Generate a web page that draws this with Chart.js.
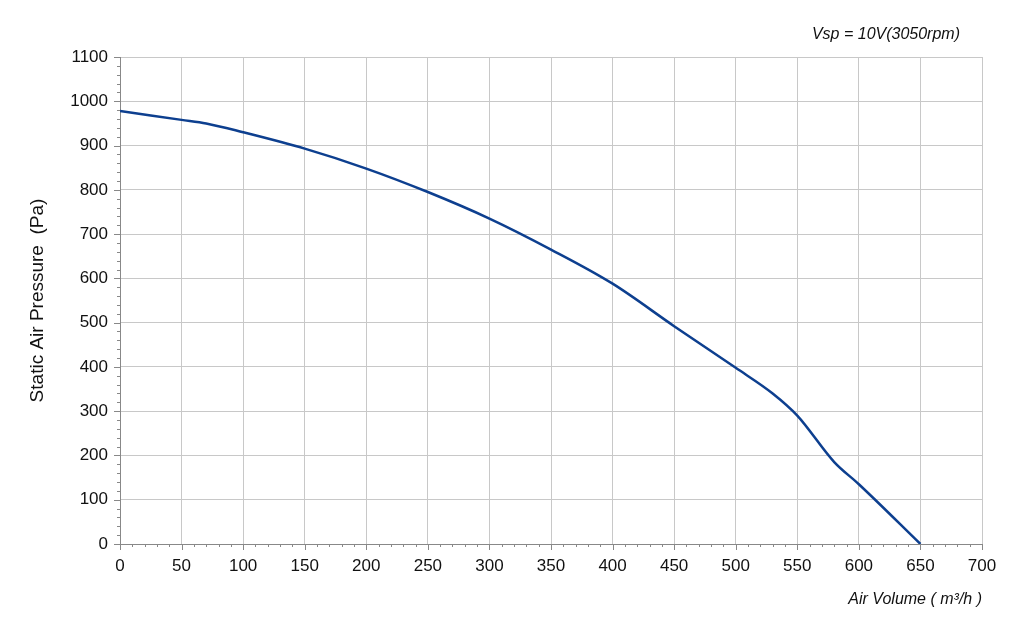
<!DOCTYPE html>
<html><head><meta charset="utf-8">
<script src="https://cdn.jsdelivr.net/npm/chart.js@4"></script>
<style>html,body{margin:0;background:#fff}#w{position:relative;width:1024px;height:633px}</style>
</head><body><div id="w"><canvas id="c" width="1024" height="633"></canvas></div>
<script>
const airVolume = [0,50,70,100,150,200,250,300,350,400,450,500,530,550,580,600,650];
const pressure  = [978,958,950,930,893,848,795,735,665,588,492,398,340,290,185,135,0];
const xTicks = [0,50,100,150,200,250,300,350,400,450,500,550,600,650,700];
const yTicks = [0,100,200,300,400,500,600,700,800,900,1000,1100];
const annotation = 'Vsp = 10V(3050rpm)';

const minorTicks = {
  id:'minor',
  afterDraw(chart){
    const {ctx, scales:{x,y}, chartArea:a} = chart;
    ctx.save(); ctx.strokeStyle='#888'; ctx.lineWidth=1;
    for(let v=0; v<=700; v+=10){ const p=Math.round(x.getPixelForValue(v))+0.5;
      ctx.beginPath(); ctx.moveTo(p,a.bottom); ctx.lineTo(p,a.bottom+(v%50===0?6:3)); ctx.stroke(); }
    for(let v=0; v<=1100; v+=20){ const p=Math.round(y.getPixelForValue(v))+0.5;
      ctx.beginPath(); ctx.moveTo(a.left,p); ctx.lineTo(a.left-(v%100===0?6:3),p); ctx.stroke(); }
    ctx.fillStyle='#111'; ctx.font='italic 16px "Liberation Sans", Arial'; ctx.textAlign='right';
    ctx.fillText(annotation, 960, 39);
    ctx.restore();
  }
};

new Chart(document.getElementById('c'), {
  type:'line',
  data:{datasets:[{data:airVolume.map((v,i)=>({x:v,y:pressure[i]})),
    borderColor:'#0d3f8f', borderWidth:2.5, pointRadius:0, cubicInterpolationMode:'monotone', fill:false}]},
  options:{
    responsive:false, animation:false,
    layout:{padding:{top:57,right:42,bottom:20,left:22}},
    plugins:{legend:{display:false}, tooltip:{enabled:false}},
    scales:{
      x:{type:'linear', min:0, max:700, afterBuildTicks:s=>{s.ticks=xTicks.map(v=>({value:v}))},
        afterFit:s=>{s.height=69},
        grid:{color:'#c8c8c8', drawTicks:false}, border:{color:'#888'},
        ticks:{color:'#111', font:{size:17, family:'"Liberation Sans", Arial'}, padding:12, maxRotation:0, callback:v=>String(v)},
        title:{display:true, text:'Air Volume ( m³/h )', align:'end', color:'#111',
          font:{size:16, style:'italic', family:'"Liberation Sans", Arial'}, padding:{top:8}}},
      y:{min:0, max:1100, afterBuildTicks:s=>{s.ticks=yTicks.map(v=>({value:v}))},
        afterFit:s=>{s.width=98},
        grid:{color:'#c8c8c8', drawTicks:false}, border:{color:'#888'},
        ticks:{color:'#111', font:{size:17, family:'"Liberation Sans", Arial'}, padding:12, callback:v=>String(v)},
        title:{display:true, text:'Static Air Pressure  (Pa)', color:'#111',
          font:{size:19, family:'"Liberation Sans", Arial'}, padding:{bottom:4}}}
    }
  },
  plugins:[minorTicks]
});
</script></body></html>
